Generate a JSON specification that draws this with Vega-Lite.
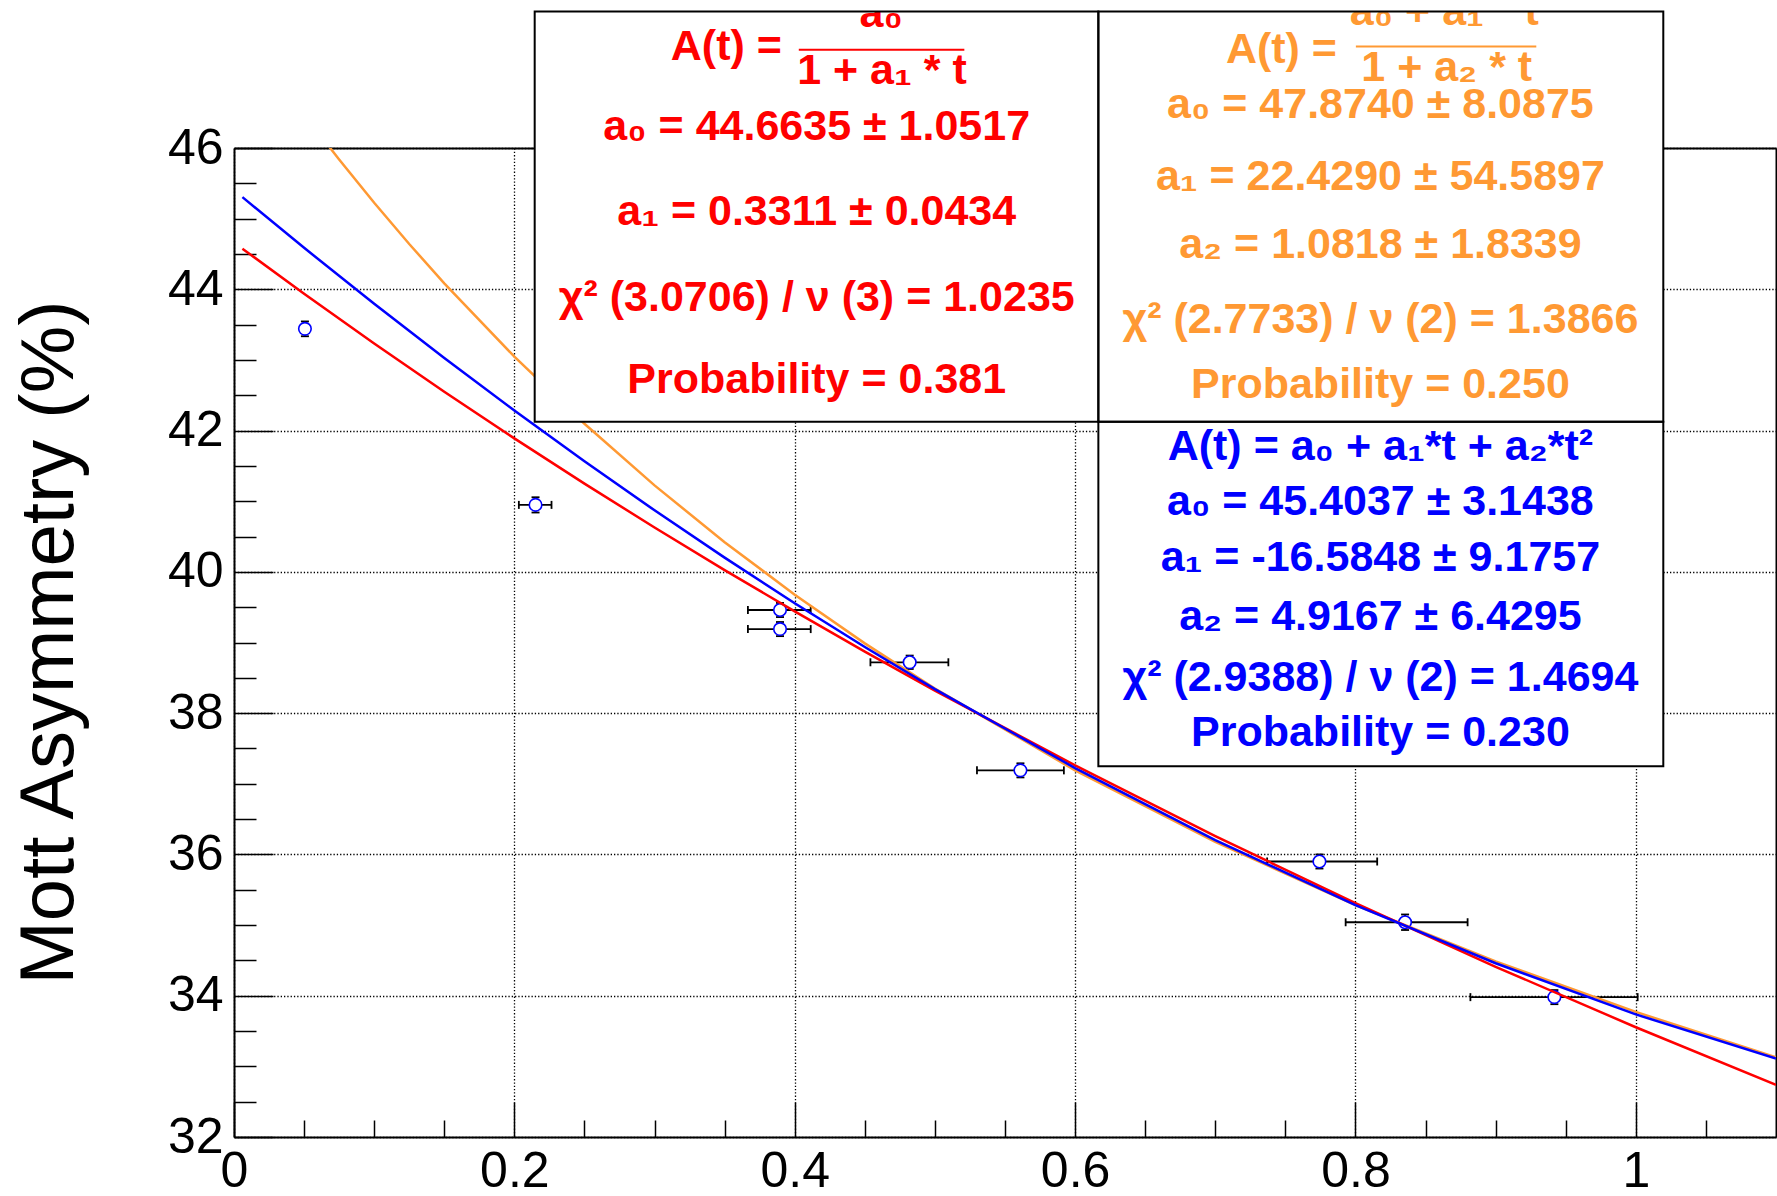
{
  "$schema": "https://vega.github.io/schema/vega-lite/v6.json",
  "width": 1542,
  "height": 989,
  "autosize": {"type": "none"},
  "padding": {"left": 234, "top": 148, "right": 1, "bottom": 59},
  "background": "white",
  "config": {"font": "Liberation Sans", "view": {"stroke": null}},
  "resolve": {"axis": {"x": "independent", "y": "independent"}},
  "datasets": {
    "points": [
      {"t": 0.0506, "a": 43.44, "tlo": 0.0486, "thi": 0.0526, "alo": 43.335, "ahi": 43.545},
      {"t": 0.2151, "a": 40.948, "tlo": 0.2032, "thi": 0.2265, "alo": 40.84, "ahi": 41.056},
      {"t": 0.3895, "a": 39.46, "tlo": 0.3666, "thi": 0.4114, "alo": 39.36, "ahi": 39.56},
      {"t": 0.3895, "a": 39.19, "tlo": 0.3666, "thi": 0.4114, "alo": 39.09, "ahi": 39.29},
      {"t": 0.482, "a": 38.72, "tlo": 0.454, "thi": 0.5096, "alo": 38.625, "ahi": 38.815},
      {"t": 0.561, "a": 37.19, "tlo": 0.53, "thi": 0.592, "alo": 37.09, "ahi": 37.29},
      {"t": 0.7743, "a": 35.9, "tlo": 0.737, "thi": 0.8155, "alo": 35.8, "ahi": 36.0},
      {"t": 0.8354, "a": 35.04, "tlo": 0.793, "thi": 0.88, "alo": 34.93, "ahi": 35.15},
      {"t": 0.9419, "a": 33.98, "tlo": 0.882, "thi": 1.0013, "alo": 33.88, "ahi": 34.08}
    ],
    "fits": [
      {"fit": "orange", "t": 0.05, "A": 46.4813},
      {"fit": "orange", "t": 0.06, "A": 46.2197},
      {"fit": "orange", "t": 0.075, "A": 45.8372},
      {"fit": "orange", "t": 0.1, "A": 45.2245},
      {"fit": "orange", "t": 0.125, "A": 44.6411},
      {"fit": "orange", "t": 0.15, "A": 44.0848},
      {"fit": "orange", "t": 0.2, "A": 43.0464},
      {"fit": "orange", "t": 0.25, "A": 42.0963},
      {"fit": "orange", "t": 0.3, "A": 41.2238},
      {"fit": "orange", "t": 0.35, "A": 40.42},
      {"fit": "orange", "t": 0.4, "A": 39.6767},
      {"fit": "orange", "t": 0.45, "A": 38.9874},
      {"fit": "orange", "t": 0.5, "A": 38.3467},
      {"fit": "orange", "t": 0.6, "A": 37.1912},
      {"fit": "orange", "t": 0.7, "A": 36.1782},
      {"fit": "orange", "t": 0.8, "A": 35.2824},
      {"fit": "orange", "t": 0.9, "A": 34.4849},
      {"fit": "orange", "t": 1.0, "A": 33.7703},
      {"fit": "orange", "t": 1.1, "A": 33.1263},
      {"fit": "red", "t": 0.006, "A": 44.5749},
      {"fit": "red", "t": 0.05, "A": 43.9361},
      {"fit": "red", "t": 0.1, "A": 43.2324},
      {"fit": "red", "t": 0.15, "A": 42.5503},
      {"fit": "red", "t": 0.2, "A": 41.8895},
      {"fit": "red", "t": 0.25, "A": 41.2491},
      {"fit": "red", "t": 0.3, "A": 40.6279},
      {"fit": "red", "t": 0.35, "A": 40.0252},
      {"fit": "red", "t": 0.4, "A": 39.4401},
      {"fit": "red", "t": 0.45, "A": 38.8718},
      {"fit": "red", "t": 0.5, "A": 38.3196},
      {"fit": "red", "t": 0.6, "A": 37.2612},
      {"fit": "red", "t": 0.7, "A": 36.2596},
      {"fit": "red", "t": 0.8, "A": 35.3105},
      {"fit": "red", "t": 0.9, "A": 34.4098},
      {"fit": "red", "t": 1.0, "A": 33.5538},
      {"fit": "red", "t": 1.1, "A": 32.7395},
      {"fit": "blue", "t": 0.006, "A": 45.3044},
      {"fit": "blue", "t": 0.05, "A": 44.5868},
      {"fit": "blue", "t": 0.1, "A": 43.7944},
      {"fit": "blue", "t": 0.15, "A": 43.0266},
      {"fit": "blue", "t": 0.2, "A": 42.2834},
      {"fit": "blue", "t": 0.25, "A": 41.5648},
      {"fit": "blue", "t": 0.3, "A": 40.8708},
      {"fit": "blue", "t": 0.35, "A": 40.2013},
      {"fit": "blue", "t": 0.4, "A": 39.5565},
      {"fit": "blue", "t": 0.45, "A": 38.9362},
      {"fit": "blue", "t": 0.5, "A": 38.3405},
      {"fit": "blue", "t": 0.6, "A": 37.2228},
      {"fit": "blue", "t": 0.7, "A": 36.2035},
      {"fit": "blue", "t": 0.8, "A": 35.2825},
      {"fit": "blue", "t": 0.9, "A": 34.4599},
      {"fit": "blue", "t": 1.0, "A": 33.7356},
      {"fit": "blue", "t": 1.1, "A": 33.1096}
    ],
    "boxes": [
      {"box": "red", "x": 0.2145, "x2": 0.6166, "y": 42.125, "y2": 47.934},
      {"box": "orange", "x": 0.6166, "x2": 1.0196, "y": 42.125, "y2": 47.934},
      {"box": "blue", "x": 0.6166, "x2": 1.0196, "y": 37.249, "y2": 42.125}
    ],
    "cover": [{"x": 0.2, "x2": 1.03, "y": 47.934, "y2": 48.3}],
    "bars": [
      {"box": "red", "x": 0.4029, "x2": 0.521, "y": 47.392},
      {"box": "orange", "x": 0.8003, "x2": 0.929, "y": 47.438}
    ],
    "labels": [
      {"box": "red", "x": 0.3512, "y": 47.25, "text": "A(t) ="},
      {"box": "red", "x": 0.4617, "y": 47.717, "text": "a₀"},
      {"box": "red", "x": 0.4622, "y": 46.91, "text": "1 + a₁ * t"},
      {"box": "red", "x": 0.4157, "y": 46.117, "text": "a₀ = 44.6635 ± 1.0517"},
      {"box": "red", "x": 0.4157, "y": 44.914, "text": "a₁ = 0.3311 ± 0.0434"},
      {"box": "red", "x": 0.4157, "y": 43.687, "text": "χ² (3.0706) /  ν (3) = 1.0235"},
      {"box": "red", "x": 0.4157, "y": 42.532, "text": "Probability = 0.381"},
      {"box": "orange", "x": 0.7472, "y": 47.203, "text": "A(t) ="},
      {"box": "orange", "x": 0.8634, "y": 47.745, "text": "a₀ + a₁ * t"},
      {"box": "orange", "x": 0.8651, "y": 46.943, "text": "1 + a₂ * t"},
      {"box": "orange", "x": 0.8178, "y": 46.425, "text": "a₀ = 47.8740 ± 8.0875"},
      {"box": "orange", "x": 0.8178, "y": 45.41, "text": "a₁ = 22.4290 ± 54.5897"},
      {"box": "orange", "x": 0.8178, "y": 44.443, "text": "a₂ = 1.0818 ± 1.8339"},
      {"box": "orange", "x": 0.8178, "y": 43.381, "text": "χ² (2.7733) /  ν (2) = 1.3866"},
      {"box": "orange", "x": 0.8178, "y": 42.461, "text": "Probability = 0.250"},
      {"box": "blue", "x": 0.8178, "y": 41.587, "text": "A(t) = a₀ + a₁*t + a₂*t²"},
      {"box": "blue", "x": 0.8178, "y": 40.809, "text": "a₀ = 45.4037 ± 3.1438"},
      {"box": "blue", "x": 0.8178, "y": 40.006, "text": "a₁ = -16.5848 ± 9.1757"},
      {"box": "blue", "x": 0.8178, "y": 39.181, "text": "a₂ = 4.9167 ± 6.4295"},
      {"box": "blue", "x": 0.8178, "y": 38.308, "text": "χ² (2.9388) /  ν (2) = 1.4694"},
      {"box": "blue", "x": 0.8178, "y": 37.529, "text": "Probability = 0.230"}
    ]
  },
  "layer": [
    {
      "data": {"name": "points"},
      "mark": {"type": "point", "opacity": 0},
      "encoding": {
        "x": {"field": "t", "type": "quantitative", "scale": {"domain": [0, 1.1], "nice": false, "zero": false},
          "axis": {"orient": "bottom", "values": [0, 0.2, 0.4, 0.6, 0.8, 1], "format": "~g", "labelFontSize": 50, "labelColor": "black", "labelFont": "Liberation Sans", "labelPadding": 9, "ticks": false, "domain": true, "domainColor": "black", "domainWidth": 2, "grid": true, "gridColor": "black", "gridDash": [1.3, 2], "gridWidth": 1.3, "gridOpacity": 1, "title": null, "labelFlush": false, "labelOverlap": false}},
        "y": {"field": "a", "type": "quantitative", "scale": {"domain": [32, 46], "nice": false, "zero": false},
          "axis": {"orient": "left", "values": [32, 34, 36, 38, 40, 42, 44, 46], "labelFontSize": 50, "labelColor": "black", "labelFont": "Liberation Sans", "labelPadding": 11, "ticks": false, "domain": true, "domainColor": "black", "domainWidth": 2, "grid": true, "gridColor": "black", "gridDash": [1.3, 2], "gridWidth": 1.3, "gridOpacity": 1, "labelFlush": false, "labelOverlap": false,
            "title": "Mott Asymmetry (%)", "titleFont": "Liberation Sans", "titleFontSize": 76, "titleFontWeight": "normal", "titleColor": "black", "titleX": -162, "titleY": 494, "titleBaseline": "alphabetic", "titleAngle": -90, "titleAlign": "center"}}
      }
    },
    {
      "data": {"name": "points"},
      "mark": {"type": "point", "opacity": 0},
      "encoding": {
        "x": {"field": "t", "type": "quantitative", "scale": {"domain": [0, 1.1], "nice": false, "zero": false},
          "axis": {"orient": "bottom", "values": [0, 0.2, 0.4, 0.6, 0.8, 1], "ticks": true, "tickSize": -35, "tickWidth": 1.5, "tickColor": "black", "labels": false, "domain": false, "grid": false, "title": null}},
        "y": {"field": "a", "type": "quantitative", "scale": {"domain": [32, 46], "nice": false, "zero": false},
          "axis": {"orient": "left", "values": [32, 34, 36, 38, 40, 42, 44, 46], "ticks": true, "tickSize": -39, "tickWidth": 1.5, "tickColor": "black", "labels": false, "domain": false, "grid": false, "title": null}}
      }
    },
    {
      "data": {"name": "points"},
      "mark": {"type": "point", "opacity": 0},
      "encoding": {
        "x": {"field": "t", "type": "quantitative", "scale": {"domain": [0, 1.1], "nice": false, "zero": false},
          "axis": {"orient": "bottom", "values": [0.05, 0.1, 0.15, 0.25, 0.3, 0.35, 0.45, 0.5, 0.55, 0.65, 0.7, 0.75, 0.85, 0.9, 0.95, 1.05], "ticks": true, "tickSize": -17, "tickWidth": 1.5, "tickColor": "black", "labels": false, "domain": false, "grid": false, "title": null}},
        "y": {"field": "a", "type": "quantitative", "scale": {"domain": [32, 46], "nice": false, "zero": false},
          "axis": {"orient": "left", "values": [32.5, 33, 33.5, 34.5, 35, 35.5, 36.5, 37, 37.5, 38.5, 39, 39.5, 40.5, 41, 41.5, 42.5, 43, 43.5, 44.5, 45, 45.5], "ticks": true, "tickSize": -22, "tickWidth": 1.5, "tickColor": "black", "labels": false, "domain": false, "grid": false, "title": null}}
      }
    },
    {
      "data": {"name": "points"},
      "mark": {"type": "point", "opacity": 0},
      "encoding": {
        "x": {"field": "t", "type": "quantitative", "scale": {"domain": [0, 1.1], "nice": false, "zero": false},
          "axis": {"orient": "top", "ticks": false, "labels": false, "domain": true, "domainColor": "black", "domainWidth": 2, "grid": false, "title": null}},
        "y": {"field": "a", "type": "quantitative", "scale": {"domain": [32, 46], "nice": false, "zero": false},
          "axis": {"orient": "right", "ticks": false, "labels": false, "domain": true, "domainColor": "black", "domainWidth": 2, "grid": false, "title": null}}
      }
    },
    {
      "data": {"name": "points"},
      "mark": {"type": "rule", "color": "black", "strokeWidth": 1.8},
      "encoding": {
        "x": {"field": "tlo", "type": "quantitative", "scale": {"domain": [0, 1.1], "nice": false, "zero": false}, "axis": null},
        "x2": {"field": "thi"},
        "y": {"field": "a", "type": "quantitative", "scale": {"domain": [32, 46], "nice": false, "zero": false}, "axis": null}
      }
    },
    {
      "data": {"name": "points"},
      "mark": {"type": "tick", "orient": "vertical", "color": "black", "size": 8, "thickness": 1.8, "opacity": 1},
      "encoding": {
        "x": {"field": "tlo", "type": "quantitative", "scale": {"domain": [0, 1.1], "nice": false, "zero": false}, "axis": null},
        "y": {"field": "a", "type": "quantitative", "scale": {"domain": [32, 46], "nice": false, "zero": false}, "axis": null}
      }
    },
    {
      "data": {"name": "points"},
      "mark": {"type": "tick", "orient": "vertical", "color": "black", "size": 8, "thickness": 1.8, "opacity": 1},
      "encoding": {
        "x": {"field": "thi", "type": "quantitative", "scale": {"domain": [0, 1.1], "nice": false, "zero": false}, "axis": null},
        "y": {"field": "a", "type": "quantitative", "scale": {"domain": [32, 46], "nice": false, "zero": false}, "axis": null}
      }
    },
    {
      "data": {"name": "points"},
      "mark": {"type": "rule", "color": "black", "strokeWidth": 1.8},
      "encoding": {
        "x": {"field": "t", "type": "quantitative", "scale": {"domain": [0, 1.1], "nice": false, "zero": false}, "axis": null},
        "y": {"field": "alo", "type": "quantitative", "scale": {"domain": [32, 46], "nice": false, "zero": false}, "axis": null},
        "y2": {"field": "ahi"}
      }
    },
    {
      "data": {"name": "points"},
      "mark": {"type": "tick", "orient": "horizontal", "color": "black", "size": 8, "thickness": 1.8, "opacity": 1},
      "encoding": {
        "x": {"field": "t", "type": "quantitative", "scale": {"domain": [0, 1.1], "nice": false, "zero": false}, "axis": null},
        "y": {"field": "alo", "type": "quantitative", "scale": {"domain": [32, 46], "nice": false, "zero": false}, "axis": null}
      }
    },
    {
      "data": {"name": "points"},
      "mark": {"type": "tick", "orient": "horizontal", "color": "black", "size": 8, "thickness": 1.8, "opacity": 1},
      "encoding": {
        "x": {"field": "t", "type": "quantitative", "scale": {"domain": [0, 1.1], "nice": false, "zero": false}, "axis": null},
        "y": {"field": "ahi", "type": "quantitative", "scale": {"domain": [32, 46], "nice": false, "zero": false}, "axis": null}
      }
    },
    {
      "data": {"name": "points"},
      "mark": {"type": "point", "shape": "circle", "filled": true, "fill": "white", "stroke": "#0000ff", "strokeWidth": 1.6, "size": 156, "opacity": 1, "fillOpacity": 1, "strokeOpacity": 1},
      "encoding": {
        "x": {"field": "t", "type": "quantitative", "scale": {"domain": [0, 1.1], "nice": false, "zero": false}, "axis": null},
        "y": {"field": "a", "type": "quantitative", "scale": {"domain": [32, 46], "nice": false, "zero": false}, "axis": null}
      }
    },
    {
      "data": {"name": "fits"},
      "transform": [{"filter": "datum.fit === 'orange'"}],
      "mark": {"type": "line", "color": "#ff9933", "strokeWidth": 2.5, "clip": true},
      "encoding": {
        "x": {"field": "t", "type": "quantitative", "scale": {"domain": [0, 1.1], "nice": false, "zero": false}, "axis": null},
        "y": {"field": "A", "type": "quantitative", "scale": {"domain": [32, 46], "nice": false, "zero": false}, "axis": null}
      }
    },
    {
      "data": {"name": "fits"},
      "transform": [{"filter": "datum.fit === 'red'"}],
      "mark": {"type": "line", "color": "#ff0000", "strokeWidth": 2.5, "clip": true},
      "encoding": {
        "x": {"field": "t", "type": "quantitative", "scale": {"domain": [0, 1.1], "nice": false, "zero": false}, "axis": null},
        "y": {"field": "A", "type": "quantitative", "scale": {"domain": [32, 46], "nice": false, "zero": false}, "axis": null}
      }
    },
    {
      "data": {"name": "fits"},
      "transform": [{"filter": "datum.fit === 'blue'"}],
      "mark": {"type": "line", "color": "#0000ff", "strokeWidth": 2.5, "clip": true},
      "encoding": {
        "x": {"field": "t", "type": "quantitative", "scale": {"domain": [0, 1.1], "nice": false, "zero": false}, "axis": null},
        "y": {"field": "A", "type": "quantitative", "scale": {"domain": [32, 46], "nice": false, "zero": false}, "axis": null}
      }
    },
    {
      "data": {"name": "boxes"},
      "mark": {"type": "rect", "fill": "white", "strokeWidth": 0},
      "encoding": {
        "x": {"field": "x", "type": "quantitative", "scale": {"domain": [0, 1.1], "nice": false, "zero": false}, "axis": null},
        "x2": {"field": "x2"},
        "y": {"field": "y", "type": "quantitative", "scale": {"domain": [32, 46], "nice": false, "zero": false}, "axis": null},
        "y2": {"field": "y2"}
      }
    },
    {
      "data": {"name": "bars"},
      "mark": {"type": "rule", "strokeWidth": 2},
      "encoding": {
        "x": {"field": "x", "type": "quantitative", "scale": {"domain": [0, 1.1], "nice": false, "zero": false}, "axis": null},
        "x2": {"field": "x2"},
        "y": {"field": "y", "type": "quantitative", "scale": {"domain": [32, 46], "nice": false, "zero": false}, "axis": null},
        "color": {"field": "box", "type": "nominal", "scale": {"domain": ["red", "orange", "blue"], "range": ["#ff0000", "#ff9933", "#0000ff"]}, "legend": null}
      }
    },
    {
      "data": {"name": "labels"},
      "mark": {"type": "text", "font": "Liberation Sans", "fontWeight": "bold", "fontSize": 43, "align": "center", "baseline": "alphabetic"},
      "encoding": {
        "x": {"field": "x", "type": "quantitative", "scale": {"domain": [0, 1.1], "nice": false, "zero": false}, "axis": null},
        "y": {"field": "y", "type": "quantitative", "scale": {"domain": [32, 46], "nice": false, "zero": false}, "axis": null},
        "text": {"field": "text", "type": "nominal"},
        "color": {"field": "box", "type": "nominal", "scale": {"domain": ["red", "orange", "blue"], "range": ["#ff0000", "#ff9933", "#0000ff"]}, "legend": null}
      }
    },
    {
      "data": {"name": "cover"},
      "mark": {"type": "rect", "fill": "white", "strokeWidth": 0},
      "encoding": {
        "x": {"field": "x", "type": "quantitative", "scale": {"domain": [0, 1.1], "nice": false, "zero": false}, "axis": null},
        "x2": {"field": "x2"},
        "y": {"field": "y", "type": "quantitative", "scale": {"domain": [32, 46], "nice": false, "zero": false}, "axis": null},
        "y2": {"field": "y2"}
      }
    },
    {
      "data": {"name": "boxes"},
      "mark": {"type": "rect", "fill": "white", "fillOpacity": 0, "stroke": "black", "strokeWidth": 2},
      "encoding": {
        "x": {"field": "x", "type": "quantitative", "scale": {"domain": [0, 1.1], "nice": false, "zero": false}, "axis": null},
        "x2": {"field": "x2"},
        "y": {"field": "y", "type": "quantitative", "scale": {"domain": [32, 46], "nice": false, "zero": false}, "axis": null},
        "y2": {"field": "y2"}
      }
    }
  ]
}
